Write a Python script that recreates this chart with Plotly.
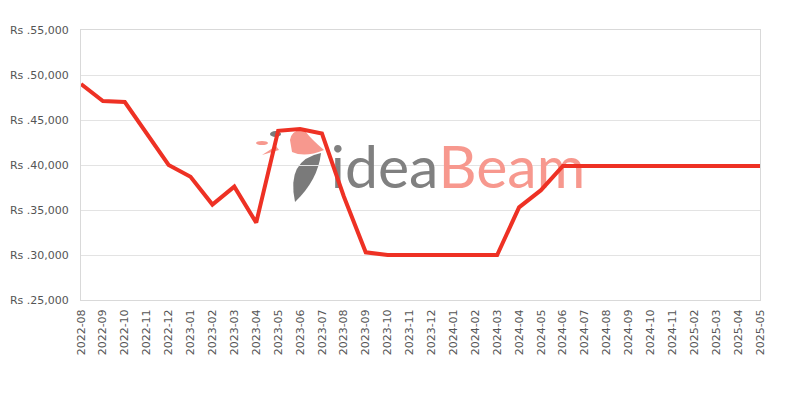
import plotly.graph_objects as go

months = ["2022-08","2022-09","2022-10","2022-11","2022-12",
          "2023-01","2023-02","2023-03","2023-04","2023-05","2023-06","2023-07","2023-08","2023-09","2023-10","2023-11","2023-12",
          "2024-01","2024-02","2024-03","2024-04","2024-05","2024-06","2024-07","2024-08","2024-09","2024-10","2024-11",
          "2025-02","2025-03","2025-04","2025-05"]
prices = [49000, 47100, 47000, 43500, 40000,
          38700, 35600, 37600, 33600, 43800, 44000, 43500, 36500, 30300, 30000, 30000, 30000,
          30000, 30000, 30000, 35300, 37200, 39900, 39900, 39900, 39900, 39900, 39900,
          39900, 39900, 39900, 39900]
y_ticks = [25000, 30000, 35000, 40000, 45000, 50000, 55000]
y_tick_labels = ["Rs .25,000","Rs .30,000","Rs .35,000","Rs .40,000","Rs .45,000","Rs .50,000","Rs .55,000"]

idx = list(range(len(months)))

def px(x):
    return (x - 81) / 679

def py(y):
    return (300 - y) / 270

fig = go.Figure()

# watermark logo text (drawn first so the line sits above it)
logo_font = "Lato"
fig.add_trace(go.Scatter(x=[16.32], y=[39100], mode="text", text=["idea"],
                         textposition="middle left", hoverinfo="skip",
                         textfont=dict(family=logo_font, size=59, color="#808080")))
fig.add_trace(go.Scatter(x=[16.32], y=[39100], mode="text", text=["Beam"],
                         textposition="middle right", hoverinfo="skip",
                         textfont=dict(family=logo_font, size=59, color="#F7988E")))

fig.add_trace(go.Scatter(x=idx, y=prices, mode="lines",
                         line=dict(color="#EE3124", width=4),
                         customdata=months, hovertemplate="%{customdata}: %{y}<extra></extra>"))

# bird mark shapes
def path(points, close=True):
    s = "M " + " L ".join(f"{px(a):.4f} {py(b):.4f}" for a, b in points)
    return s + (" Z" if close else "")

def qpath(start, segs):
    s = f"M {px(start[0]):.4f} {py(start[1]):.4f}"
    for (cx, cy), (ex, ey) in segs:
        s += f" Q {px(cx):.4f} {py(cy):.4f} {px(ex):.4f} {py(ey):.4f}"
    return s + " Z"

fig.add_shape(type="path", xref="paper", yref="paper", layer="below",
              path=qpath((321, 153), [((286, 160), (295, 202)), ((318, 180), (321, 153))]),
              fillcolor="#7a7a7a", line=dict(width=0))
fig.add_shape(type="path", xref="paper", yref="paper", layer="below",
              path=qpath((290, 140), [((292, 128), (305, 131)), ((312, 140), (324, 150)),
                                      ((305, 158), (292, 152))]),
              fillcolor="#F7988E", line=dict(width=0))
fig.add_shape(type="circle", xref="paper", yref="paper", layer="below",
              x0=px(256), x1=px(268), y0=py(145), y1=py(141),
              fillcolor="#F7988E", line=dict(width=0))
fig.add_shape(type="path", xref="paper", yref="paper", layer="below",
              path=path([(262, 155), (276, 146), (279, 150)]),
              fillcolor="#F7988E", line=dict(width=0))
fig.add_shape(type="circle", xref="paper", yref="paper", layer="below",
              x0=px(270), x1=px(281), y0=py(137), y1=py(131),
              fillcolor="#7a7a7a", line=dict(width=0))

fig.update_layout(
    width=800, height=400,
    margin=dict(l=81, r=40, t=30, b=100),
    paper_bgcolor="white", plot_bgcolor="white",
    showlegend=False,
    font=dict(family="DejaVu Sans", size=11, color="#555555"),
)
fig.update_xaxes(tickmode="array", tickvals=idx, ticktext=months, tickangle=-90,
                 showgrid=False, automargin=False, zeroline=False,
                 showline=True, linecolor="#d9d9d9", linewidth=1, mirror=True,
                 ticks="", ticklabelstandoff=4, tickfont=dict(size=11, color="#555555"),
                 range=[0, len(months) - 1])
fig.update_yaxes(range=[25000, 55000], tickvals=y_ticks, ticktext=y_tick_labels,
                 showgrid=True, gridcolor="#e3e3e3", gridwidth=1, automargin=False,
                 showline=True, linecolor="#d9d9d9", linewidth=1, mirror=True,
                 zeroline=False, ticks="", ticklabelstandoff=9,
                 tickfont=dict(size=11, color="#555555"))

fig.write_html("out.html", config={"displayModeBar": False},
               post_script="document.body.style.margin='0';document.body.style.overflow='hidden';")
